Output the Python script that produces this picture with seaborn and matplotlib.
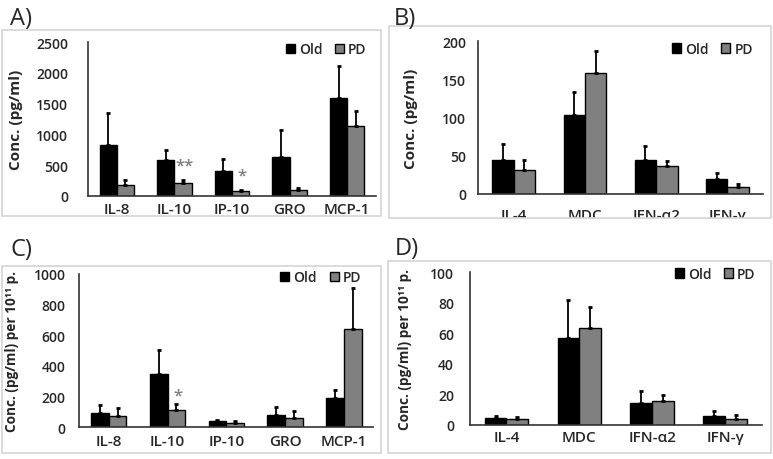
import numpy as np
import pandas as pd
import matplotlib
matplotlib.use('Agg')
import matplotlib.pyplot as plt
import seaborn as sns
from matplotlib.patches import Rectangle
from matplotlib.transforms import Bbox, TransformedBbox

sns.set_style('white')
plt.rcParams['font.family'] = ['Open Sans', 'DejaVu Sans']

# ---- data ----
cyto_ac = ['IL-8', 'IL-10', 'IP-10', 'GRO', 'MCP-1']
cyto_bd = ['IL-4', 'MDC', 'IFN-α2', 'IFN-γ']

a_old = [825, 580, 405, 625, 1600]
a_old_err = [517, 165, 193, 451, 509]
a_pd = [175, 205, 76, 98, 1136]
a_pd_err = [85, 55, 22, 27, 250]

b_old = [45, 103, 44, 19]
b_old_err = [20, 30, 19, 8.5]
b_pd = [32, 158, 37, 9]
b_pd_err = [13, 29, 6, 4]

c_old = [94, 350, 39, 83, 191]
c_old_err = [54, 154, 9, 52, 52]
c_pd = [74, 111, 30, 63, 641]
c_pd_err = [52, 41, 13, 46, 268]

d_old = [4.8, 57, 14.6, 6.1]
d_old_err = [1.3, 25, 7.4, 3.1]
d_pd = [3.9, 63.5, 15.7, 3.7]
d_pd_err = [1.3, 14, 4, 2.8]

# significance stars: (category index, y, text)
a_stars = [(1, 500, '**'), (2, 326, '*')]
c_stars = [(1, 206, '*')]

W, H = 773, 460
fig = plt.figure(figsize=(W / 100, H / 100), dpi=100)


def fbox(x0, y0, x1, y1):
    # pixel box (top-left origin) -> figure fraction rect
    return [x0 / W, 1 - y1 / H, (x1 - x0) / W, (y1 - y0) / H]


def panel(rect, frame, cats, old, old_err, pd_, pd_err, ymax, ystep, ylabel,
          letter, letter_xy, leg_xy, ypad, xpad, lab_x=-0.21, lab_size=11,
          stars=(), clip_labels=False):
    # light grey frame around the panel
    fx0, fy0, fx1, fy1 = frame
    fig.add_artist(Rectangle((fx0 / W, 1 - fy1 / H), (fx1 - fx0) / W, (fy1 - fy0) / H,
                             transform=fig.transFigure, fill=False,
                             edgecolor='#d4d4d4', lw=1.2))
    fig.text(letter_xy[0] / W, 1 - letter_xy[1] / H, letter, fontsize=17,
             ha='left', va='baseline')

    ax = fig.add_axes(fbox(*rect))
    df = pd.DataFrame({
        'cyto': cats * 2,
        'group': ['Old'] * len(cats) + ['PD'] * len(cats),
        'value': list(old) + list(pd_),
    })
    sns.barplot(data=df, x='cyto', y='value', hue='group',
                palette={'Old': 'black', 'PD': '#808080'},
                edgecolor='black', linewidth=1, width=0.6,
                errorbar=None, ax=ax)

    for cont, err in zip(ax.containers, [old_err, pd_err]):
        xs = [b.get_x() + b.get_width() / 2 for b in cont]
        ys = [b.get_height() for b in cont]
        ax.errorbar(xs, ys, yerr=[np.zeros(len(err)), err], fmt='none',
                    ecolor='black', elinewidth=1.3, capsize=1.2, capthick=2)

    for i, y, s in stars:
        ax.text(i + 0.17, y, s, ha='center', va='center', color='#7f7f7f',
                fontsize=12, fontweight='semibold')

    ax.set_xlim(-0.5, len(cats) - 0.5)
    ax.set_ylim(0, ymax)
    ax.set_yticks(np.arange(0, ymax + 1, ystep))
    ax.set_xlabel('')
    ax.set_ylabel(ylabel, fontsize=lab_size, fontweight='bold')
    ax.yaxis.set_label_coords(lab_x, 0.5)
    sns.despine(ax=ax)
    for s in ['left', 'bottom']:
        ax.spines[s].set_color('#333333')
        ax.spines[s].set_linewidth(1.2)
    ax.tick_params(axis='y', length=3, width=1, color='#333333', pad=ypad,
                   labelsize=10)
    ax.tick_params(axis='x', length=0, pad=xpad, labelsize=11)
    plt.setp(ax.get_xticklabels() + ax.get_yticklabels(), fontweight='semibold')

    sns.move_legend(ax, 'center right', bbox_to_anchor=leg_xy, ncol=2,
                    frameon=False, title=None,
                    prop={'size': 10, 'weight': 'semibold'},
                    handlelength=0.65, handleheight=0.65, handletextpad=0.3,
                    columnspacing=0.9, borderaxespad=0, borderpad=0)

    if clip_labels:
        clip = TransformedBbox(Bbox.from_extents(fx0 / W, 1 - fy1 / H, fx1 / W, 1 - fy0 / H),
                               fig.transFigure)
        fig.canvas.draw()
        for t in ax.get_xticklabels():
            t.set_clip_box(clip)
            t.set_clip_on(True)
    return ax


panel((88, 43.3, 376, 196.7), (2, 31, 381, 217), cyto_ac, a_old, a_old_err, a_pd, a_pd_err,
      2500, 500, 'Conc. (pg/ml)', 'A)', (10, 25), (0.967, 0.956), 11.4, 4.3,
      lab_x=-0.225, stars=a_stars)
panel((478, 42.3, 763, 195), (389, 27, 771, 219), cyto_bd, b_old, b_old_err, b_pd, b_pd_err,
      200, 50, 'Conc. (pg/ml)', 'B)', (394, 25), (0.965, 0.95), 5.6, 10,
      lab_x=-0.21, clip_labels=True)
panel((79.3, 275, 373.3, 428.3), (2, 267, 381, 454), cyto_ac, c_old, c_old_err, c_pd, c_pd_err,
      1000, 200, 'Conc. (pg/ml) per 10¹¹ p.', 'C)', (11, 256), (0.959, 0.98), 7, 4.5,
      lab_x=-0.205, lab_size=9.8, stars=c_stars)
panel((470, 273.3, 761.7, 426), (388, 262, 771, 454), cyto_bd, d_old, d_old_err, d_pd, d_pd_err,
      100, 20, 'Conc. (pg/ml) per 10¹¹ p.', 'D)', (395, 255), (0.979, 0.989), 8.5, 3.3,
      lab_x=-0.2, lab_size=9.8)

fig.savefig('out.png', dpi=100)
